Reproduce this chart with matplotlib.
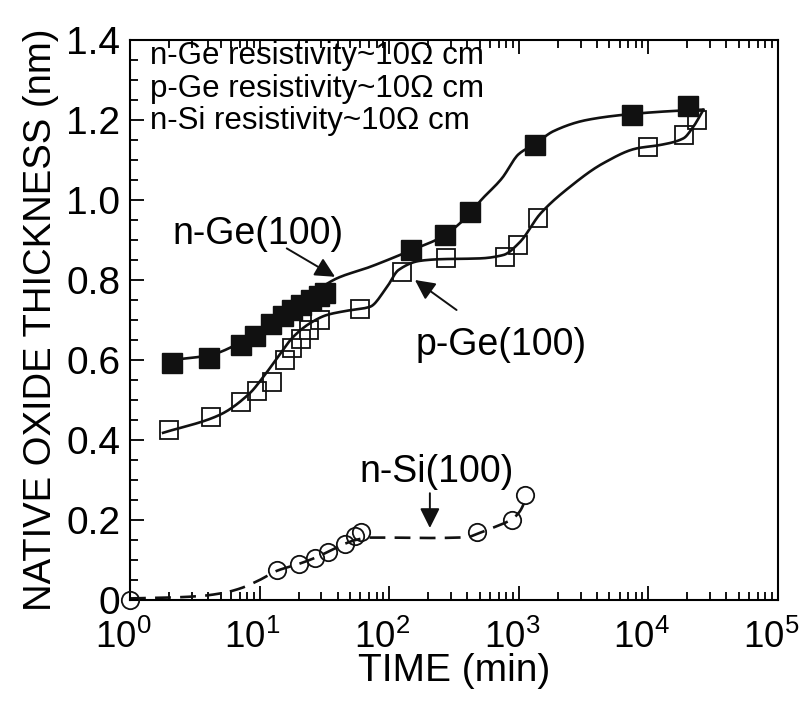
import matplotlib
matplotlib.use("Agg")
import matplotlib.pyplot as plt
import numpy as np
from matplotlib.ticker import LogLocator, MultipleLocator, FuncFormatter
from matplotlib.transforms import ScaledTranslation

plt.rcParams["font.family"] = ["Liberation Sans", "DejaVu Sans"]
plt.rcParams["mathtext.fontset"] = "custom"
plt.rcParams["mathtext.rm"] = "Liberation Sans"
plt.rcParams["mathtext.it"] = "Liberation Sans:italic"

# measured points (time in min, thickness in nm)
nge_t = [2.1, 4.1, 7.2, 9.2, 12.2, 15.2, 17.7, 21, 25, 28.5, 32, 147, 270, 420, 1333, 7430, 20300]
nge_v = [0.593, 0.606, 0.637, 0.66, 0.69, 0.71, 0.725, 0.738, 0.75, 0.76, 0.767, 0.875, 0.9125, 0.97, 1.1375, 1.2125, 1.235]

pge_t = [2.0, 4.2, 7.25, 9.6, 12.5, 15.7, 17.9, 20.7, 24, 29.2, 59.5, 125, 274, 783, 991, 1400, 10000, 18900, 23600]
pge_v = [0.425, 0.457, 0.496, 0.523, 0.544, 0.60, 0.63, 0.652, 0.675, 0.70, 0.727, 0.82, 0.854, 0.858, 0.8875, 0.954, 1.133, 1.1625, 1.20]

nsi_t = [1.0, 13.6, 20, 26.8, 34, 45.6, 54.5, 61, 473, 881, 1117]
nsi_v = [0.0, 0.074, 0.089, 0.105, 0.121, 0.141, 0.16, 0.171, 0.171, 0.2, 0.262]

# guide curves drawn in the figure
nge_fit_t = [2.1, 4.1, 7.2, 10, 15, 22, 30, 40, 70, 121, 150, 270, 352, 420, 500, 740, 1000, 1333, 1850, 3340, 7440, 16500, 26500]
nge_fit_v = [0.60, 0.612, 0.645, 0.678, 0.718, 0.752, 0.782, 0.805, 0.832, 0.8625, 0.875, 0.912, 0.942, 0.965, 0.996, 1.054, 1.115, 1.14, 1.172, 1.20, 1.215, 1.223, 1.226]

pge_fit_t = [1.8, 4.9, 8.4, 10.7, 13.6, 18.2, 24.5, 33, 45, 71, 95, 118, 173, 247, 502, 760, 1021, 1460, 2483, 4490, 8120, 12300, 18600, 22200, 26500]
pge_fit_v = [0.418, 0.4625, 0.517, 0.558, 0.604, 0.658, 0.692, 0.7125, 0.722, 0.733, 0.78, 0.825, 0.848, 0.852, 0.854, 0.8625, 0.895, 0.965, 1.033, 1.092, 1.129, 1.1375, 1.154, 1.183, 1.225]

nsi_fit_t = [1.0, 2, 3.5, 5.3, 7.1, 10, 13.6, 20, 27, 34, 45, 55, 70, 100, 200, 400, 473, 657, 881, 1083, 1117]
nsi_fit_v = [0.004, 0.006, 0.010, 0.018, 0.029, 0.05, 0.073, 0.09, 0.106, 0.121, 0.14, 0.15, 0.156, 0.156, 0.155, 0.157, 0.165, 0.183, 0.202, 0.238, 0.26]

info_lines = ["n-Ge resistivity~10Ω cm", "p-Ge resistivity~10Ω cm", "n-Si resistivity~10Ω cm"]


def smooth(t, v, n=400):
    # shape-preserving cubic (pchip) in log-time
    x = np.log10(t)
    y = np.asarray(v, float)
    h = np.diff(x)
    d = np.diff(y) / h
    m = np.zeros_like(y)
    for i in range(1, len(y) - 1):
        if d[i - 1] * d[i] > 0:
            w1 = 2 * h[i] + h[i - 1]
            w2 = h[i] + 2 * h[i - 1]
            m[i] = (w1 + w2) / (w1 / d[i - 1] + w2 / d[i])
    m[0] = d[0]
    m[-1] = d[-1]
    xs = np.linspace(x[0], x[-1], n)
    k = np.clip(np.searchsorted(x, xs) - 1, 0, len(h) - 1)
    s = (xs - x[k]) / h[k]
    ys = ((2 * s**3 - 3 * s**2 + 1) * y[k] + (s**3 - 2 * s**2 + s) * h[k] * m[k]
          + (-2 * s**3 + 3 * s**2) * y[k + 1] + (s**3 - s**2) * h[k] * m[k + 1])
    return 10**xs, ys


fig = plt.figure(figsize=(8.02, 7.02), dpi=100)
ax = fig.add_axes([130 / 802, 102 / 702, 648 / 802, 560 / 702])

lc = "#111111"
ax.plot(*smooth(nge_fit_t, nge_fit_v), color=lc, lw=1.9, zorder=2)
ax.plot(*smooth(pge_fit_t, pge_fit_v), color=lc, lw=1.9, zorder=2)
ax.plot(*smooth(nsi_fit_t, nsi_fit_v), color=lc, lw=1.9, dashes=(6, 3.5), zorder=2)

ax.plot(pge_t, pge_v, ls="none", marker="s", ms=13.5, mfc="none", mec=lc, mew=1.3, zorder=3)
ax.plot(nge_t, nge_v, ls="none", marker="s", ms=14.5, mfc=lc, mec=lc, mew=1, zorder=4)
ax.plot(nsi_t, nsi_v, ls="none", marker="o", ms=12.5, mfc="none", mec=lc, mew=1.3, zorder=5,
        clip_on=False)

ax.set_xscale("log")
ax.set_xlim(1, 1e5)
ax.set_ylim(0, 1.4)
ax.yaxis.set_major_locator(MultipleLocator(0.2))
ax.yaxis.set_minor_locator(MultipleLocator(0.05))
ax.yaxis.set_major_formatter(FuncFormatter(lambda v, p: "0" if abs(v) < 1e-9 else f"{v:.1f}"))
ax.xaxis.set_major_locator(LogLocator(base=10, numticks=10))
ax.xaxis.set_minor_locator(LogLocator(base=10, subs=np.arange(2, 10), numticks=20))

ax.tick_params(which="both", direction="in", top=True, right=False, width=1.3)
ax.tick_params(which="major", length=10)
ax.tick_params(which="minor", length=6)
ax.tick_params(axis="y", pad=7, labelsize=28)
ax.tick_params(axis="x", pad=14, labelsize=26.5)
for sp in ax.spines.values():
    sp.set_linewidth(1.5)

# x tick labels sit a little left of their ticks in the original
shift = ScaledTranslation(-7 / 100, 0, fig.dpi_scale_trans)
for lab in ax.get_xticklabels():
    lab.set_transform(lab.get_transform() + shift)

ax.set_xlabel("TIME (min)", fontsize=28, labelpad=-2)
ax.set_ylabel("NATIVE OXIDE THICKNESS (nm)", fontsize=27.5, labelpad=5)

for i, s in enumerate(info_lines):
    ax.text(0.031, 0.971 - i * 0.058, s, transform=ax.transAxes, fontsize=22.5, va="center", ha="left")

arrow = dict(arrowstyle="-|>", color=lc, lw=1.4, mutation_scale=30, shrinkA=0, shrinkB=0)
ax.text(9.7, 0.915, "n-Ge(100)", fontsize=27, ha="center", va="center")
ax.annotate("", xy=(38.2, 0.808), xytext=(16.2, 0.879), arrowprops=arrow)
ax.text(729, 0.6375, "p-Ge(100)", fontsize=27, ha="center", va="center")
ax.annotate("", xy=(158, 0.80), xytext=(331, 0.725), arrowprops=arrow)
ax.text(233, 0.32, "n-Si(100)", fontsize=27, ha="center", va="center")
ax.annotate("", xy=(206, 0.18), xytext=(206, 0.267), arrowprops=arrow)

fig.savefig("out.png", dpi=100)
